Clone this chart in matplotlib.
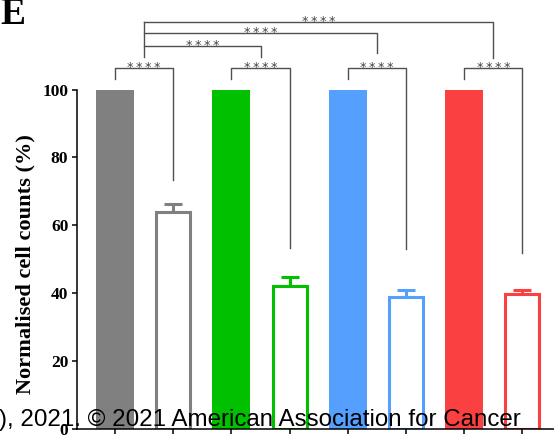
import matplotlib
matplotlib.use('Agg')
import matplotlib.pyplot as plt
import numpy as np

# ---- data ----
groups = ['Group 1', 'Group 2', 'Group 3', 'Group 4']
control_values = [100, 100, 100, 100]
treated_values = [64.0, 42.2, 38.9, 39.9]
treated_err = [2.3, 2.6, 2.0, 1.0]
colors = ['#808080', '#00c000', '#55a0ff', '#fa4040']
y_ticks = [0, 20, 40, 60, 80, 100]
sig_label = '****'

W, H = 554, 436
fig = plt.figure(figsize=(W / 100, H / 100), dpi=100)
ax = fig.add_axes([77 / W, 7 / H, 1 - 77 / W, 429 / H])

serif_bold = dict(family='Liberation Serif', weight='bold')
n = len(groups)
ctrl_x = np.arange(n) * 2
trt_x = ctrl_x + 1

ax.bar(ctrl_x, control_values, width=0.653, color=colors, edgecolor='none', zorder=2)
ax.bar(trt_x, treated_values, width=0.585, color='white', edgecolor=colors,
       linewidth=2.2, zorder=2)
for i in range(n):
    ax.errorbar(trt_x[i], treated_values[i], yerr=[[0], [treated_err[i]]],
                fmt='none', ecolor=colors[i], elinewidth=2.2, capsize=6.8,
                capthick=2.2, zorder=1)

ax.set_xlim(-0.653, (W - 115) / 58.2)
ax.set_ylim(0, 126.4)
ax.set_yticks(y_ticks)
ax.set_yticklabels([str(t) for t in y_ticks], fontdict=dict(size=12.5, **serif_bold))
ax.set_xticks(list(np.sort(np.concatenate([ctrl_x, trt_x]))))
ax.set_xticklabels([])
ax.tick_params(axis='both', direction='out', length=3.8, width=1.1, color='black')
ax.tick_params(axis='y', pad=2.5)
for s in ['top', 'right']:
    ax.spines[s].set_visible(False)
for s in ['left', 'bottom']:
    ax.spines[s].set_linewidth(1.1)
ax.spines['left'].set_bounds(0, 100)

# ---- significance brackets ----
lc = '#505050'
lw = 1.0
star_txt = '\u2009'.join(sig_label)

def stars(x, y):
    ax.annotate(star_txt, xy=(x, y), xytext=(0, -2.2), textcoords='offset points',
                ha='center', va='baseline', fontsize=9.2, color='#444444',
                family='DejaVu Sans', annotation_clip=False)

pair_left_bottom = 103.1
pair_top = 106.3
pair_right_bottom = [73.3, 53.3, 53.0, 52.0]
for i in range(n):
    xl, xr = ctrl_x[i], trt_x[i]
    ax.plot([xl, xl, xr, xr], [pair_left_bottom, pair_top, pair_top, pair_right_bottom[i]],
            color=lc, lw=lw, clip_on=False, zorder=3)
    stars((xl + xr) / 2, pair_top)

mid = (ctrl_x + trt_x) / 2
top_levels = [112.8, 116.6, 119.9]
top_leg_bottom = [109.6, 110.8, 109.3]
ax.plot([mid[0], mid[0]], [109.6, top_levels[-1]], color=lc, lw=lw, clip_on=False, zorder=3)
for j, lvl in enumerate(top_levels):
    xe = mid[j + 1]
    ax.plot([mid[0], xe, xe], [lvl, lvl, top_leg_bottom[j]], color=lc, lw=lw,
            clip_on=False, zorder=3)
    stars((mid[0] + xe) / 2, lvl)

# ---- labels ----
fig.text(25 / W, 172 / H, 'Normalised cell counts (%)', rotation=90, ha='center',
         va='center', fontsize=16.1, **serif_bold)
fig.text(0, (H - 24) / H, 'E', ha='left', va='baseline', fontsize=27, **serif_bold)
fig.text(-1 / W, 10 / H, '), 2021. © 2021 American Association for Cancer',
         ha='left', va='baseline', fontsize=17.4, family='Liberation Sans',
         color='black', zorder=10)

fig.savefig('out.png', dpi=100)
